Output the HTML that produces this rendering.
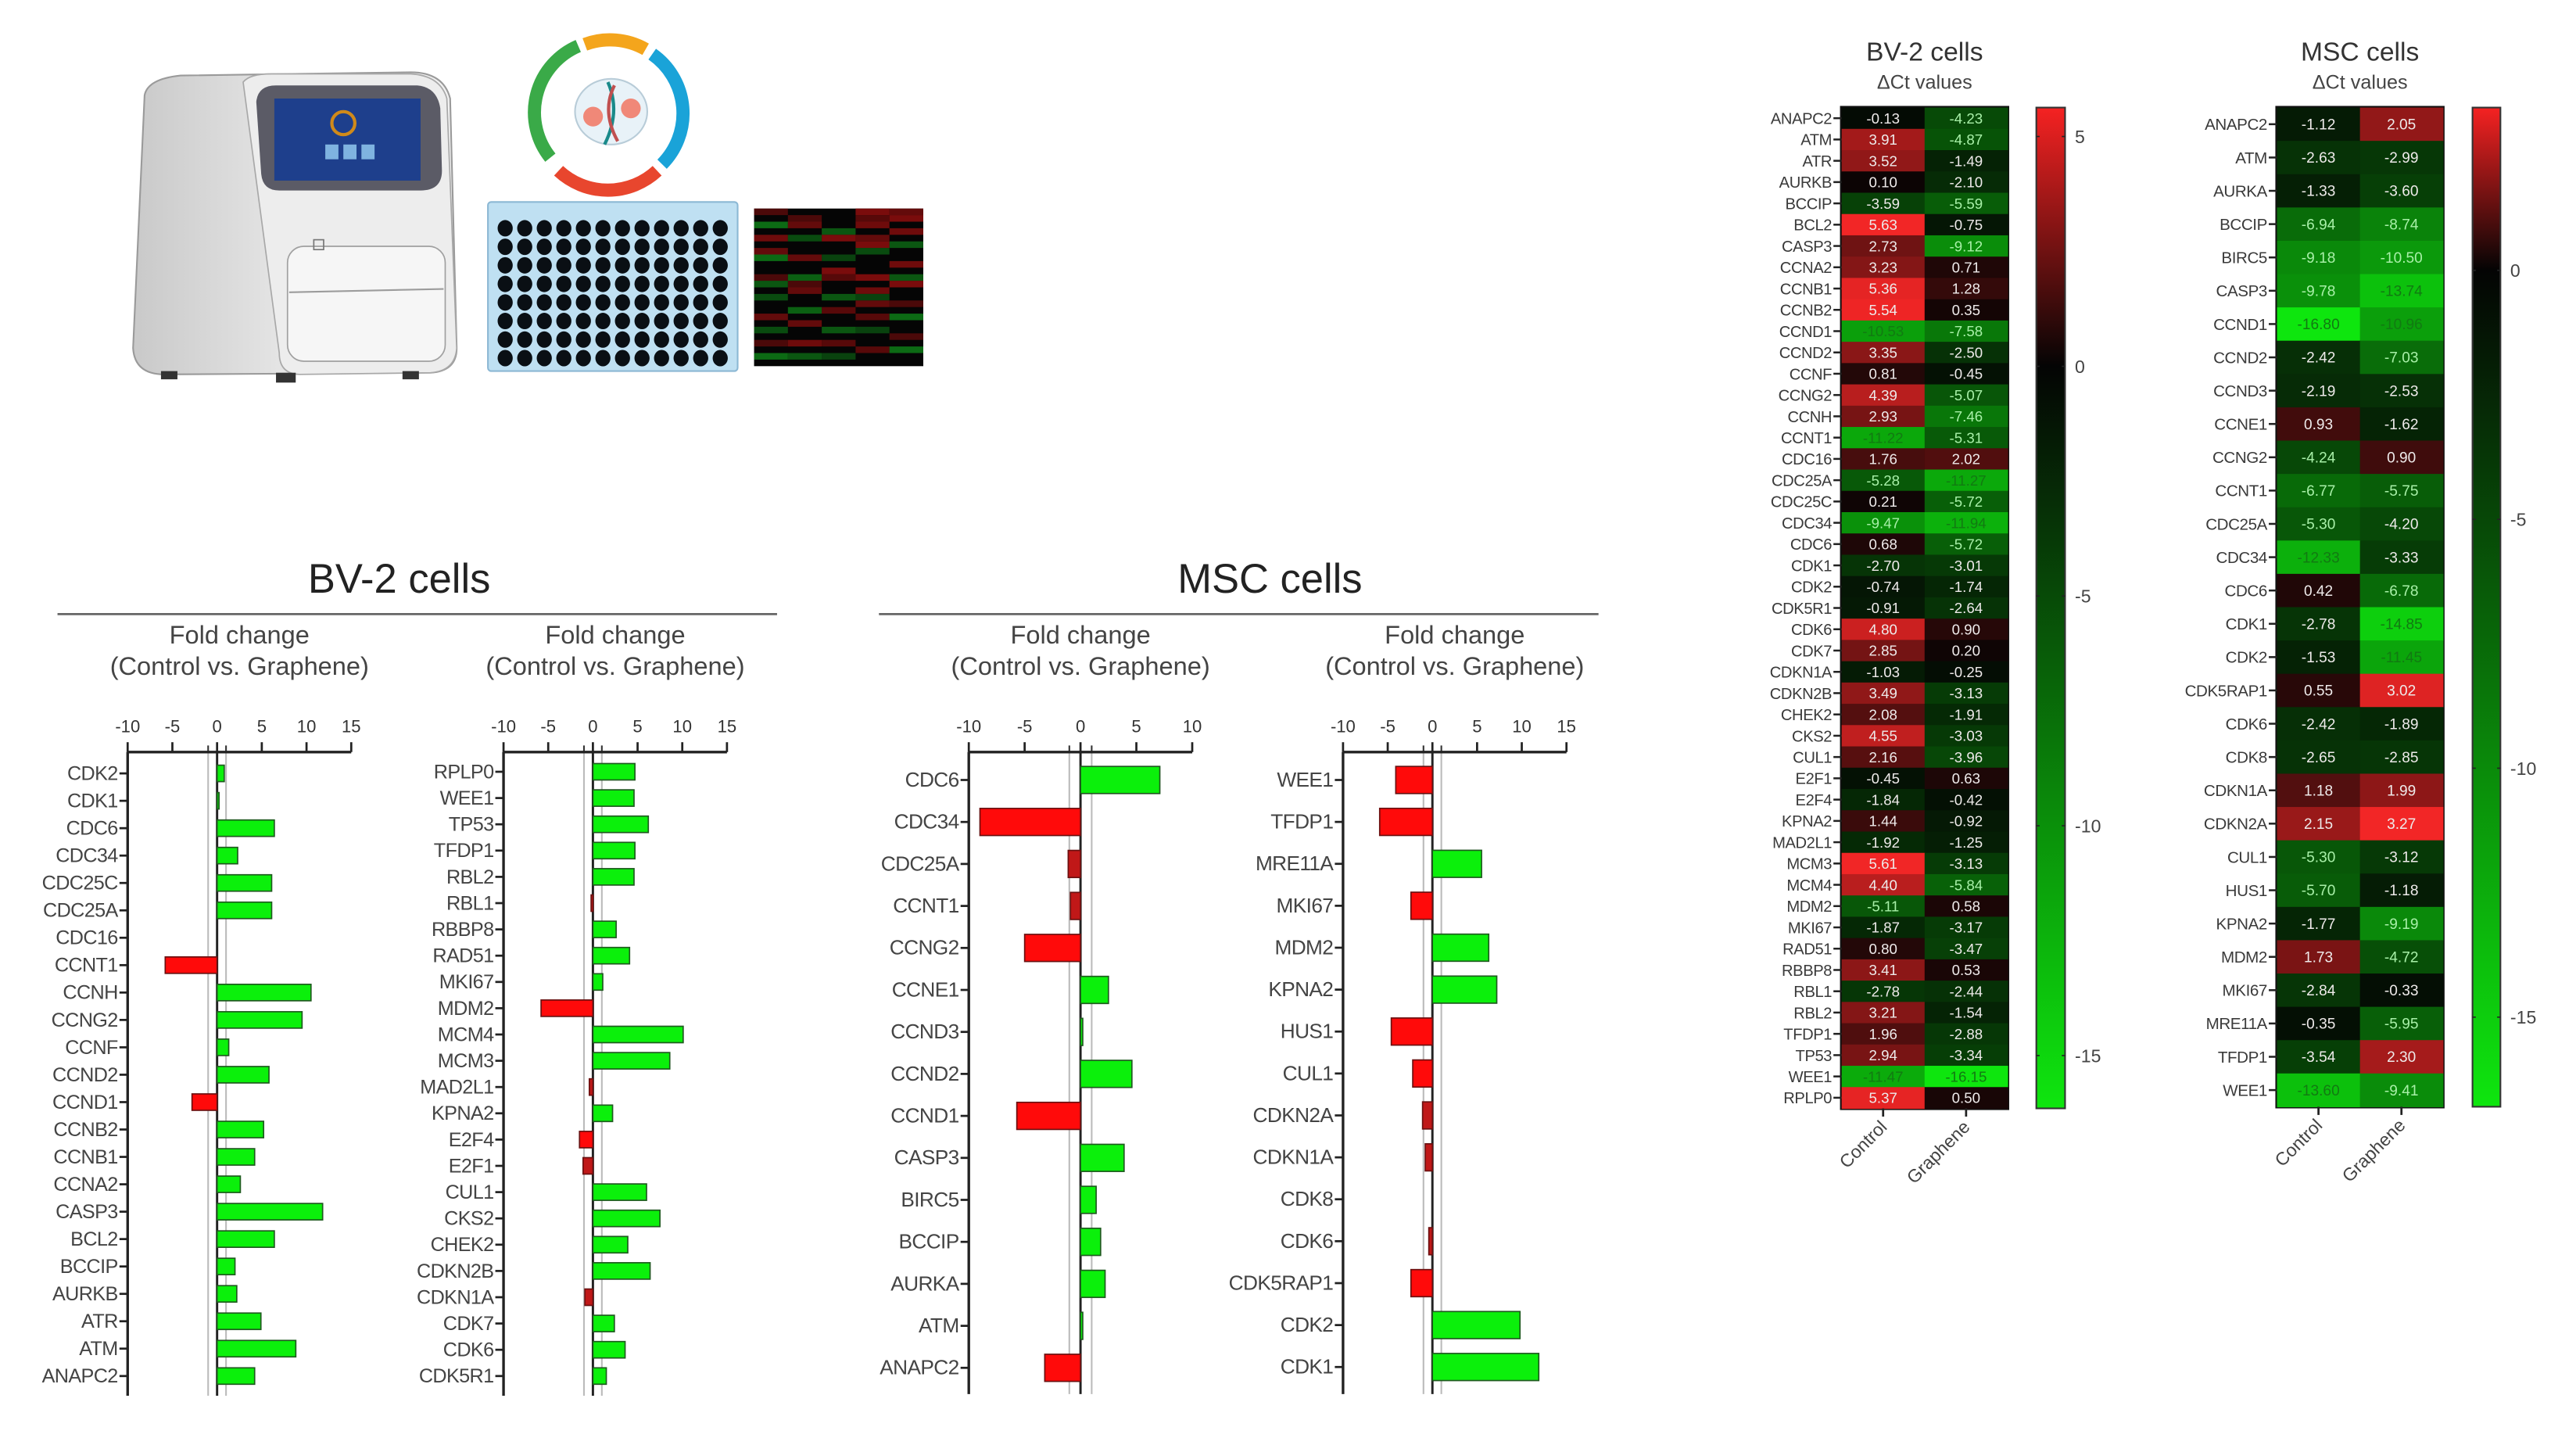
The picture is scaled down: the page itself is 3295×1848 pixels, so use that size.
<!DOCTYPE html>
<html><head><meta charset="utf-8">
<style>
html,body{margin:0;padding:0;background:#fff;}
svg{display:block;}
text{font-family:"Liberation Sans",Arial,sans-serif;}
</style></head>
<body>
<svg id="fig" xmlns="http://www.w3.org/2000/svg" width="3295" height="1848" viewBox="0 0 1568 880" preserveAspectRatio="none">
<defs>
<linearGradient id="machineBody" x1="0" x2="1" y1="0" y2="0">
<stop offset="0" stop-color="#c9c9c9"/><stop offset="0.45" stop-color="#e4e4e4"/><stop offset="1" stop-color="#f3f3f3"/>
</linearGradient>
<linearGradient id="cbBV" x1="0" x2="0" y1="0" y2="1"></linearGradient>
<linearGradient id="cbMSC" x1="0" x2="0" y1="0" y2="1"></linearGradient>
</defs>

<g>
<path d="M88,58 Q90,48 110,46 L250,44 Q270,44 274,60 L278,212 Q278,226 262,227 L100,228 Q82,228 81,212 Z" fill="url(#machineBody)" stroke="#9a9a9a" stroke-width="1"/>
<path d="M148,50 Q152,45 165,45 L250,45 Q268,46 272,60 L278,212 Q277,226 262,227 L183,228 Q170,228 170,215 Z" fill="#ededed" stroke="#a8a8a8" stroke-width="0.8"/>
<path d="M156,62 Q157,52 168,52 L254,52 Q266,53 268,66 L269,104 Q269,116 256,116 L170,116 Q160,116 159,106 Z" fill="#5b5b66"/>
<rect x="167" y="60" width="89" height="50" fill="#1e3f8c"/>
<circle cx="209" cy="75" r="7" fill="none" stroke="#d08a1a" stroke-width="2"/>
<rect x="198" y="88" width="8" height="9" fill="#7fb3e0"/><rect x="209" y="88" width="8" height="9" fill="#7fb3e0"/><rect x="220" y="88" width="8" height="9" fill="#7fb3e0"/>
<rect x="175" y="150" width="96" height="70" rx="10" fill="#f6f6f6" stroke="#a0a0a0" stroke-width="0.8"/>
<line x1="176" y1="178" x2="270" y2="176" stroke="#9c9c9c" stroke-width="1"/>
<rect x="191" y="146" width="6" height="6" fill="none" stroke="#777" stroke-width="0.8"/>
<rect x="98" y="226" width="10" height="5" fill="#333"/><rect x="168" y="227" width="12" height="6" fill="#333"/><rect x="245" y="226" width="10" height="5" fill="#333"/>
</g>

<g fill="none" stroke-width="8">
<path d="M352,28 A44,44 0 0 0 335,96" stroke="#3aaa48"/>
<path d="M356,27 A44,44 0 0 1 393,30" stroke="#f4a51c"/>
<path d="M397,33 A44,44 0 0 1 403,100" stroke="#1aa3d8"/>
<path d="M400,104 A44,44 0 0 1 340,104" stroke="#e8462e"/>
<ellipse cx="372" cy="68" rx="22" ry="20" fill="#e8f2f8" stroke="#b8ccd8" stroke-width="1"/>
<circle cx="361" cy="71" r="6" fill="#f08878" stroke="none"/>
<circle cx="384" cy="66" r="6" fill="#f08878" stroke="none"/>
<path d="M370,50 Q378,68 368,88" stroke="#1a8a8a" stroke-width="2"/>
<path d="M374,52 Q366,68 376,86" stroke="#c05050" stroke-width="2"/>
</g>

<g id="plate">
<rect x="297" y="123" width="152" height="103" rx="2" fill="#bfe0f2" stroke="#8cb8d4" stroke-width="1"/>
</g>

<g id="miniHeat">
<rect x="459" y="127" width="103" height="96" fill="#050505"/>
</g>

<g id="charts"></g>
</svg>

<script>
const bvLeftGenes = ["CDK2","CDK1","CDC6","CDC34","CDC25C","CDC25A","CDC16","CCNT1","CCNH","CCNG2","CCNF","CCND2","CCND1","CCNB2","CCNB1","CCNA2","CASP3","BCL2","BCCIP","AURKB","ATR","ATM","ANAPC2"];
const bvLeftFC = [0.8,0.15,6.4,2.3,6.1,6.1,0,-5.8,10.5,9.5,1.3,5.8,-2.8,5.2,4.2,2.6,11.8,6.4,2.0,2.2,4.9,8.8,4.2];
const bvRightGenes = ["RPLP0","WEE1","TP53","TFDP1","RBL2","RBL1","RBBP8","RAD51","MKI67","MDM2","MCM4","MCM3","MAD2L1","KPNA2","E2F4","E2F1","CUL1","CKS2","CHEK2","CDKN2B","CDKN1A","CDK7","CDK6","CDK5R1"];
const bvRightFC = [4.7,4.6,6.2,4.7,4.6,-0.2,2.6,4.1,1.1,-5.8,10.1,8.6,-0.4,2.2,-1.5,-1.1,6.0,7.5,3.9,6.4,-0.9,2.4,3.6,1.5];
const mscLeftGenes = ["CDC6","CDC34","CDC25A","CCNT1","CCNG2","CCNE1","CCND3","CCND2","CCND1","CASP3","BIRC5","BCCIP","AURKA","ATM","ANAPC2"];
const mscLeftFC = [7.1,-9.0,-1.1,-0.9,-5.0,2.5,0.2,4.6,-5.7,3.9,1.4,1.8,2.2,0.2,-3.2];
const mscRightGenes = ["WEE1","TFDP1","MRE11A","MKI67","MDM2","KPNA2","HUS1","CUL1","CDKN2A","CDKN1A","CDK8","CDK6","CDK5RAP1","CDK2","CDK1"];
const mscRightFC = [-4.1,-5.9,5.5,-2.4,6.3,7.2,-4.6,-2.2,-1.1,-0.8,0,-0.4,-2.4,9.8,11.9];
const fcTicksWide = [-10,-5,0,5,10,15];
const fcTicksNarrow = [-10,-5,0,5,10];

const bvHeatGenes = ["ANAPC2","ATM","ATR","AURKB","BCCIP","BCL2","CASP3","CCNA2","CCNB1","CCNB2","CCND1","CCND2","CCNF","CCNG2","CCNH","CCNT1","CDC16","CDC25A","CDC25C","CDC34","CDC6","CDK1","CDK2","CDK5R1","CDK6","CDK7","CDKN1A","CDKN2B","CHEK2","CKS2","CUL1","E2F1","E2F4","KPNA2","MAD2L1","MCM3","MCM4","MDM2","MKI67","RAD51","RBBP8","RBL1","RBL2","TFDP1","TP53","WEE1","RPLP0"];
const bvHeatControl = [-0.13,3.91,3.52,0.10,-3.59,5.63,2.73,3.23,5.36,5.54,-10.53,3.35,0.81,4.39,2.93,-11.22,1.76,-5.28,0.21,-9.47,0.68,-2.70,-0.74,-0.91,4.80,2.85,-1.03,3.49,2.08,4.55,2.16,-0.45,-1.84,1.44,-1.92,5.61,4.40,-5.11,-1.87,0.80,3.41,-2.78,3.21,1.96,2.94,-11.47,5.37];
const bvHeatGraphene = [-4.23,-4.87,-1.49,-2.10,-5.59,-0.75,-9.12,0.71,1.28,0.35,-7.58,-2.50,-0.45,-5.07,-7.46,-5.31,2.02,-11.27,-5.72,-11.94,-5.72,-3.01,-1.74,-2.64,0.90,0.20,-0.25,-3.13,-1.91,-3.03,-3.96,0.63,-0.42,-0.92,-1.25,-3.13,-5.84,0.58,-3.17,-3.47,0.53,-2.44,-1.54,-2.88,-3.34,-16.15,0.50];
const bvScaleTicks = [5,0,-5,-10,-15];

const mscHeatGenes = ["ANAPC2","ATM","AURKA","BCCIP","BIRC5","CASP3","CCND1","CCND2","CCND3","CCNE1","CCNG2","CCNT1","CDC25A","CDC34","CDC6","CDK1","CDK2","CDK5RAP1","CDK6","CDK8","CDKN1A","CDKN2A","CUL1","HUS1","KPNA2","MDM2","MKI67","MRE11A","TFDP1","WEE1"];
const mscHeatControl = [-1.12,-2.63,-1.33,-6.94,-9.18,-9.78,-16.80,-2.42,-2.19,0.93,-4.24,-6.77,-5.30,-12.33,0.42,-2.78,-1.53,0.55,-2.42,-2.65,1.18,2.15,-5.30,-5.70,-1.77,1.73,-2.84,-0.35,-3.54,-13.60];
const mscHeatGraphene = [2.05,-2.99,-3.60,-8.74,-10.50,-13.74,-10.96,-7.03,-2.53,-1.62,0.90,-5.75,-4.20,-3.33,-6.78,-14.85,-11.45,3.02,-1.89,-2.85,1.99,3.27,-3.12,-1.18,-9.19,-4.72,-0.33,-5.95,2.30,-9.41];
const mscScaleTicks = [0,-5,-10,-15];
const heatColumns = ["Control","Graphene"];

const NS = "http://www.w3.org/2000/svg";
const root = document.getElementById("charts");
function mk(tag, attrs, parent, txt){
  const e = document.createElementNS(NS, tag);
  for (const k in attrs) e.setAttribute(k, attrs[k]);
  if (txt !== undefined) e.textContent = txt;
  (parent || root).appendChild(e);
  return e;
}

(function(){
  const plate = document.getElementById("plate");
  for (let r = 0; r < 8; r++) for (let c = 0; c < 12; c++) {
    const d = mk("ellipse", {cx: 307.5 + c*11.9, cy: 139 + r*11.3, rx: 4.6, ry: 5, fill: "#0a0f14"}, plate);
    
    
  }
  const mh = document.getElementById("miniHeat");
  const pat = ["rkgkrkrgkkrgkgkkrkgkrkgk","krrkgkkrkkgrrkkgkrkkrkgk","kkkgrkkgkrrkkgkrkkgkrkgk","rrrkrrgkkkrkrgrkrkgkkrkk","rrkrkgkkrkgrkkrkgkkrkgkk"];
  const cols = {r:"#7a0c0c", g:"#0c6a14", k:"#080808"};
  for (let c = 0; c < 5; c++) for (let i = 0; i < 24; i++) {
    const ch = pat[c][i];
    if (ch === "k") continue;
    const s = mk("rect", {x: 459 + c*20.6, y: 127 + i*4, width: 20.6, height: 4, fill: cols[ch], opacity: (0.6 + ((i*7+c*3)%5)*0.1).toFixed(2)}, mh);
    
    
  }
})();

function header(cx, x1, x2, title, name){
  const t = mk("text", {x: cx, y: 361, "text-anchor": "middle", "font-size": 25, fill: "#222"}, root, title);
  
  
  const l = mk("line", {x1: x1, x2: x2, y1: 374, y2: 374, stroke: "#666", "stroke-width": 1.3});
  
  
}
header(243, 35, 473, "BV-2 cells", "bv2-section");
header(773, 535, 973, "MSC cells", "msc-section");

function barChart(o){
  const g = mk("g", {});
  
  
  const ticks = o.ticks;
  const vmin = ticks[0], vmax = ticks[ticks.length-1];
  const xs = v => o.x0 + (v - vmin) / (vmax - vmin) * (o.x1 - o.x0);
  const n = o.genes.length;
  const ys = i => o.yFirst + i * (o.yLast - o.yFirst) / (n - 1);
  const cx = (o.x0 + o.x1) / 2;
  const t1 = mk("text", {x: cx, y: 392, "text-anchor": "middle", "font-size": 15.5, fill: "#444"}, g, "Fold change");
  
  
  const t2 = mk("text", {x: cx, y: 411, "text-anchor": "middle", "font-size": 15.5, fill: "#444"}, g, "(Control vs. Graphene)");
  
  
  const axY = 458, bottom = o.bottom;
  [-1, 1].forEach(v => {
    const l = mk("line", {x1: xs(v), x2: xs(v), y1: axY, y2: bottom, stroke: "#bbb", "stroke-width": 1}, g);
    
    
    const tk = mk("line", {x1: xs(v), x2: xs(v), y1: axY, y2: axY - 4, stroke: "#333", "stroke-width": 1}, g);
    
    
  });
  const zl = mk("line", {x1: xs(0), x2: xs(0), y1: axY, y2: bottom, stroke: "#222", "stroke-width": 1.4}, g);
  
  
  const ax = mk("line", {x1: o.x0, x2: o.x1, y1: axY, y2: axY, stroke: "#222", "stroke-width": 1.6}, g);
  
  
  ticks.forEach(v => {
    const tk = mk("line", {x1: xs(v), x2: xs(v), y1: axY, y2: axY - 6, stroke: "#222", "stroke-width": 1.3}, g);
    
    
    const tl = mk("text", {x: xs(v), y: 446, "text-anchor": "middle", "font-size": 10.5, fill: "#333"}, g, String(v));
    
    
  });
  const ay = mk("line", {x1: o.x0, x2: o.x0, y1: axY, y2: bottom, stroke: "#222", "stroke-width": 1.6}, g);
  
  
  o.genes.forEach((gene, i) => {
    const y = ys(i);
    const tk = mk("line", {x1: o.x0 - 5, x2: o.x0, y1: y, y2: y, stroke: "#222", "stroke-width": 1.3}, g);
    
    
    const tl = mk("text", {x: o.x0 - 6, y: y + 4, "text-anchor": "end", "font-size": o.fs, fill: "#444", "letter-spacing": "-0.3"}, g, gene);
    
    
    const v = o.values[i];
    if (v === 0) return;
    const a = xs(Math.min(0, v)), b = xs(Math.max(0, v));
    const pos = v > 0;
    const small = Math.abs(v) < 1.5;
    const r = mk("rect", {x: a, y: y - o.bh/2, width: Math.max(b - a, 1.2), height: o.bh,
      fill: pos ? "#0bf00b" : (small ? "#c01818" : "#ff0a0a"),
      stroke: pos ? "#1e5a1e" : "#6a1010", "stroke-width": 0.8}, g);
    
    
  });
}
barChart({name: "bv2-fold-change-chart-1", genes: bvLeftGenes, values: bvLeftFC, ticks: fcTicksWide, x0: 77.7, x1: 213.8, yFirst: 471, yLast: 838, bottom: 850, bh: 10, fs: 12});
barChart({name: "bv2-fold-change-chart-2", genes: bvRightGenes, values: bvRightFC, ticks: fcTicksWide, x0: 306.5, x1: 442.5, yFirst: 470, yLast: 838, bottom: 850, bh: 10, fs: 12});
barChart({name: "msc-fold-change-chart-1", genes: mscLeftGenes, values: mscLeftFC, ticks: fcTicksNarrow, x0: 589.7, x1: 725.7, yFirst: 475, yLast: 833, bottom: 849, bh: 16.5, fs: 12.5});
barChart({name: "msc-fold-change-chart-2", genes: mscRightGenes, values: mscRightFC, ticks: fcTicksWide, x0: 817.5, x1: 953.5, yFirst: 475, yLast: 832.5, bottom: 849, bh: 16.5, fs: 12.5});

function heatColor(v, vmin, vmax){
  if (v >= 0) {
    const t = Math.pow(Math.min(1, v / vmax), 1.15);
    return "rgb(" + Math.round(10 + 232*t) + "," + Math.round(4 + 34*t) + "," + Math.round(4 + 34*t) + ")";
  } else {
    const t = Math.pow(Math.min(1, v / vmin), 0.9);
    return "rgb(" + Math.round(4 + 10*t) + "," + Math.round(8 + 222*t) + "," + Math.round(4 + 10*t) + ")";
  }
}
function heatmap(o){
  const g = mk("g", {});
  
  
  const cxm = (o.x0 + o.x1) / 2;
  const t = mk("text", {x: cxm, y: 37, "text-anchor": "middle", "font-size": 16, fill: "#333"}, g, o.title);
  
  
  const st = mk("text", {x: cxm, y: 54, "text-anchor": "middle", "font-size": 12, fill: "#444"}, g, "ΔCt values");
  
  
  const n = o.genes.length;
  const rh = (o.y1 - o.y0) / n;
  const cw = (o.x1 - o.x0) / 2;
  const bg = mk("rect", {x: o.x0 - 1, y: o.y0 - 1, width: o.x1 - o.x0 + 2, height: o.y1 - o.y0 + 2, fill: "#111"}, g);
  
  
  const series = [o.control, o.graphene];
  o.genes.forEach((gene, i) => {
    const yc = o.y0 + (i + 0.5) * rh;
    const tk = mk("line", {x1: o.x0 - 5, x2: o.x0, y1: yc, y2: yc, stroke: "#222", "stroke-width": 1.2}, g);
    
    
    const lb = mk("text", {x: o.x0 - 6, y: yc + 3.5, "text-anchor": "end", "font-size": o.fs + 0.4, fill: "#3a3a3a", "letter-spacing": "-0.2"}, g, gene);
    
    
    series.forEach((arr, c) => {
      const v = arr[i];
      const cell = mk("rect", {x: o.x0 + c*cw, y: o.y0 + i*rh, width: cw + 0.3, height: rh + 0.3, fill: heatColor(v, o.vmin, o.vmax)}, g);
      
      
      const bright = v < 0 && v / o.vmin > 0.65;
      const tv = mk("text", {x: o.x0 + (c + 0.5)*cw, y: yc + 3.2, "text-anchor": "middle", "font-size": o.fs - 0.3, fill: bright ? "#127a12" : (v < 0 && v / o.vmin > 0.25 ? "#a8f0a8" : "#eeeaea")}, g, v.toFixed(2));
      
      
    });
  });
  heatColumns.forEach((lab, c) => {
    const x = o.x0 + (c + 0.5) * cw;
    const tk = mk("line", {x1: x, x2: x, y1: o.y1, y2: o.y1 + 5, stroke: "#222", "stroke-width": 1.3}, g);
    
    
    const tl = mk("text", {x: x + 3, y: o.y1 + 12, "text-anchor": "end", "font-size": 11, fill: "#444", transform: "rotate(-45 " + (x + 3) + " " + (o.y1 + 12) + ")"}, g, lab);
    
    
  });
  const grad = document.getElementById(o.gradId);
  const zeroFrac = o.vmax / (o.vmax - o.vmin);
  [[0, "rgb(245,34,34)"], [zeroFrac, "rgb(4,4,4)"], [1, "rgb(14,230,14)"]].forEach(s => {
    mk("stop", {offset: s[0], "stop-color": s[1]}, grad);
  });
  const cb = mk("rect", {x: o.cbx, y: o.y0, width: o.cbw, height: o.y1 - o.y0, fill: "url(#" + o.gradId + ")", stroke: "#333", "stroke-width": 1}, g);
  
  
  const cy = v => o.y0 + (o.vmax - v) / (o.vmax - o.vmin) * (o.y1 - o.y0);
  o.scaleTicks.forEach(v => {
    const y = cy(v);
    const tk = mk("line", {x1: o.cbx, x2: o.cbx + o.cbw, y1: y, y2: y, stroke: "#222", "stroke-width": 0.8, "stroke-dasharray": "2 " + (o.cbw - 4)}, g);
    
    
    const tl = mk("text", {x: o.cbx + o.cbw + 6, y: y + 4, "font-size": 11, fill: "#444"}, g, String(v));
    
    
  });
}
heatmap({name: "bv2-delta-ct-heatmap", title: "BV-2 cells", genes: bvHeatGenes, control: bvHeatControl, graphene: bvHeatGraphene,
  x0: 1121, x1: 1222, y0: 65.5, y1: 675, vmin: -16.15, vmax: 5.63, fs: 9.2, cbx: 1239.5, cbw: 17.5, gradId: "cbBV", scaleTicks: bvScaleTicks});
heatmap({name: "msc-delta-ct-heatmap", title: "MSC cells", genes: mscHeatGenes, control: mscHeatControl, graphene: mscHeatGraphene,
  x0: 1386, x1: 1487, y0: 65.5, y1: 674, vmin: -16.8, vmax: 3.27, fs: 9.4, cbx: 1505, cbw: 17, gradId: "cbMSC", scaleTicks: mscScaleTicks});
</script>
</body></html>
